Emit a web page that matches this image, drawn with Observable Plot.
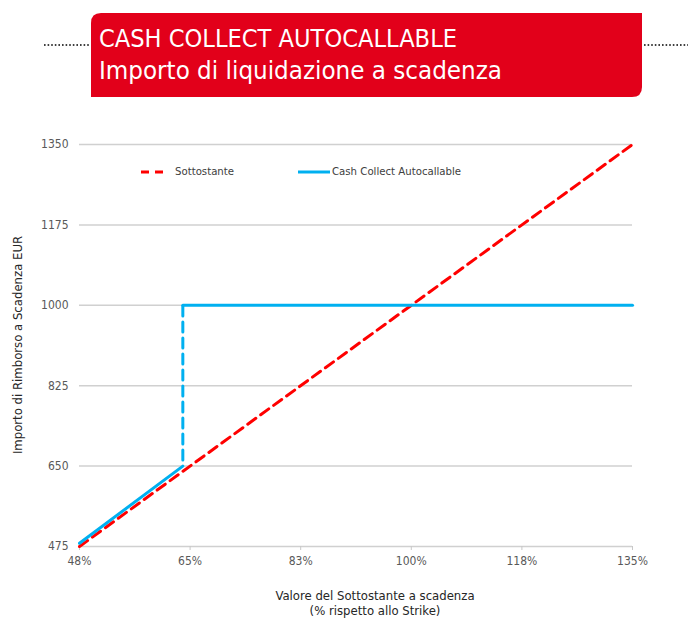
<!DOCTYPE html>
<html>
<head>
<meta charset="utf-8">
<script src="https://cdn.jsdelivr.net/npm/d3@7"></script>
<script src="https://cdn.jsdelivr.net/npm/@observablehq/plot@0.6"></script>
<style>
  html, body { margin: 0; padding: 0; background: #fff; }
  #wrap { position: relative; width: 688px; height: 619px; overflow: hidden; background: #fff;
          font-family: "Liberation Sans Narrow", "DejaVu Sans Condensed", "Open Sans", sans-serif; }
  #header { position: absolute; left: 0; top: 0; }
  #chart { position: absolute; left: 0; top: 110px; }
  .lbl { position: absolute; color: #262626; font-size: 13px; white-space: nowrap; }
  .leg { position: absolute; font-size: 11.3px; color: #404040; white-space: nowrap; }
</style>
</head>
<body>
<div id="wrap">
  <svg id="header" width="688" height="110"></svg>
  <div id="chart"></div>
  <div class="lbl" id="ylab" style="left:17px; top:345px; transform: translate(-50%,-50%) rotate(-90deg);"></div>
  <div class="lbl" id="xlab" style="left:375px; top:588px; transform: translateX(-50%); text-align:center; line-height:15px;"></div>
  <div id="legend"></div>
</div>
<script>
// ---- Data ----
const titleLines = ["CASH COLLECT AUTOCALLABLE", "Importo di liquidazione a scadenza"];
const yLabel = "Importo di Rimborso a Scadenza EUR";
const xLabelLines = ["Valore del Sottostante a scadenza", "(% rispetto allo Strike)"];
const seriesNames = ["Sottostante", "Cash Collect Autocallable"];

const xTicks = [47.5, 65, 82.5, 100, 117.5, 135];
const xTickLabels = ["48%", "65%", "83%", "100%", "118%", "135%"];
const yTicks = [475, 650, 825, 1000, 1175, 1350];

// Sottostante (underlying)
const sottX = [47.5, 135];
const sottY = [475, 1350];
// Cash Collect Autocallable: ramp below barrier, jump at barrier, flat at 1000
const rampX = [47.5, 63.85];
const rampY = [482, 650];
const jumpX = [63.85, 63.85];
const jumpY = [650, 1000];
const flatX = [63.85, 135];
const flatY = [1000, 1000];

const RED = "#ff0000";
const BLUE = "#00b0f0";

// ---- Header ----
const hdr = d3.select("#header");
hdr.append("path")
  .attr("d", "M101,13 H642 V87 Q642,97 632,97 H91 V23 Q91,13 101,13 Z")
  .attr("fill", "#e2001a");
hdr.append("line").attr("x1", 44).attr("x2", 90).attr("y1", 45).attr("y2", 45)
  .attr("stroke", "#000").attr("stroke-width", 1.6).attr("stroke-dasharray", "1.6,2");
hdr.append("line").attr("x1", 644).attr("x2", 688).attr("y1", 45).attr("y2", 45)
  .attr("stroke", "#000").attr("stroke-width", 1.6).attr("stroke-dasharray", "1.6,2");
const hf = '"Liberation Sans Narrow", "DejaVu Sans Condensed", sans-serif';
hdr.append("text").attr("x", 99).attr("y", 47).attr("fill", "#fff")
  .attr("font-family", hf).attr("font-size", 24)
  .attr("textLength", 358).attr("lengthAdjust", "spacingAndGlyphs")
  .text(titleLines[0]);
hdr.append("text").attr("x", 99).attr("y", 79).attr("fill", "#fff")
  .attr("font-family", hf).attr("font-size", 24)
  .attr("textLength", 403).attr("lengthAdjust", "spacingAndGlyphs")
  .text(titleLines[1]);

// ---- Labels ----
document.getElementById("ylab").textContent = yLabel;
document.getElementById("xlab").innerHTML = xLabelLines.map(s => `<div>${s}</div>`).join("");

// ---- Legend ----
document.getElementById("legend").innerHTML = `
  <svg style="position:absolute;left:138px;top:166px" width="30" height="12">
    <line x1="3" x2="27" y1="6" y2="6" stroke="${RED}" stroke-width="3" stroke-dasharray="8,6"/>
  </svg>
  <div class="leg" style="left:175px; top:165px;">${seriesNames[0]}</div>
  <svg style="position:absolute;left:296px;top:166px" width="36" height="12">
    <line x1="2" x2="34" y1="6" y2="6" stroke="${BLUE}" stroke-width="3"/>
  </svg>
  <div class="leg" style="left:332px; top:165px;">${seriesNames[1]}</div>`;

// ---- Chart ----
const sott = sottX.map((x, i) => ({x, y: sottY[i]}));
const ramp = rampX.map((x, i) => ({x, y: rampY[i]}));
const jump = jumpX.map((x, i) => ({x, y: jumpY[i]}));
const flat = flatX.map((x, i) => ({x, y: flatY[i]}));

const chart = Plot.plot({
  width: 688,
  height: 509,
  marginTop: 34,
  marginBottom: 73,
  marginLeft: 79,
  marginRight: 56,
  x: {domain: [47.5, 135]},
  y: {domain: [475, 1350]},
  style: {
    fontFamily: '"Liberation Sans Narrow", "DejaVu Sans Condensed", sans-serif',
    fontSize: "12px",
    color: "#595959",
    background: "transparent",
    overflow: "visible"
  },
  marks: [
    Plot.ruleY(yTicks, {stroke: "#d0d0d0", strokeWidth: 1.5}),
    Plot.axisY({ticks: yTicks, tickSize: 0, tickPadding: 11, label: null, tickFormat: d => String(d)}),
    Plot.axisX({ticks: xTicks, tickSize: 4, tickPadding: 6, label: null, stroke: "#c8c8c8",
                tickFormat: d => xTickLabels[xTicks.indexOf(d)]}),
    Plot.line(sott, {x: "x", y: "y", stroke: RED, strokeWidth: 3, strokeDasharray: "10,6"}),
    Plot.line(jump, {x: "x", y: "y", stroke: BLUE, strokeWidth: 3, strokeDasharray: "10,6", strokeDashoffset: -6}),
    Plot.line(ramp, {x: "x", y: "y", stroke: BLUE, strokeWidth: 3, strokeLinecap: "round"}),
    Plot.line(flat, {x: "x", y: "y", stroke: BLUE, strokeWidth: 3})
  ]
});
document.getElementById("chart").appendChild(chart);
</script>
</body>
</html>
